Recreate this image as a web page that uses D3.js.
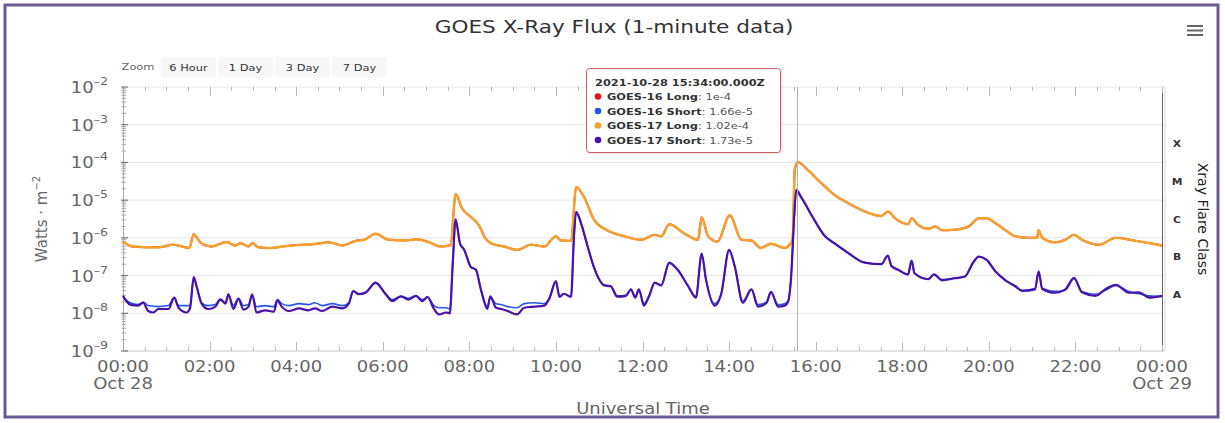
<!DOCTYPE html>
<html>
<head lang="en">
    <meta charset="UTF-8">
    <script src="https://cdn.jsdelivr.net/npm/d3@7/dist/d3.min.js" charset="utf-8"></script>
    <title>GOES X-Ray Flux</title>
    <style>
        body { margin: 0; background: #fff; }
        svg text { font-family: "DejaVu Sans", Verdana, sans-serif; }
    </style>
</head>
<body>
<svg id="chart" width="1225" height="423"></svg>

<script>
    // readings taken off the plot, [UTC time on Oct 28, W/m^2]
    var goes17Long = [
        ["00:00", 8e-7], ["00:13", 5.9e-7], ["00:49", 5.6e-7], ["01:10", 6.6e-7], ["01:32", 5.4e-7],
        ["01:38", 1.25e-6], ["01:47", 7.6e-7], ["02:03", 5.9e-7], ["02:24", 7.8e-7], ["02:35", 6.2e-7],
        ["02:43", 7.2e-7], ["02:54", 5.9e-7], ["02:59", 7.2e-7], ["03:08", 5.6e-7], ["03:22", 5.4e-7],
        ["03:50", 6.2e-7], ["04:26", 6.9e-7], ["04:45", 7.6e-7], ["05:04", 6.3e-7], ["05:22", 8.3e-7],
        ["05:35", 9e-7], ["05:50", 1.28e-6], ["06:08", 8.9e-7], ["06:32", 8.5e-7], ["06:46", 9.2e-7],
        ["07:04", 7.7e-7], ["07:20", 5.9e-7], ["07:34", 6.4e-7], ["07:41", 1.45e-5], ["07:50", 6e-6],
        ["08:02", 3.6e-6], ["08:13", 2.2e-6], ["08:23", 9.2e-7], ["08:32", 6.9e-7], ["08:48", 5.9e-7],
        ["09:07", 4.8e-7], ["09:25", 6.6e-7], ["09:44", 5.9e-7], ["10:00", 1.1e-6], ["10:07", 8.5e-7],
        ["10:21", 8.3e-7], ["10:28", 2.24e-5], ["10:40", 1.1e-5], ["10:53", 3e-6], ["11:12", 1.56e-6],
        ["11:35", 1.1e-6], ["11:58", 8.9e-7], ["12:17", 1.2e-6], ["12:26", 1.1e-6], ["12:37", 2.3e-6],
        ["12:58", 1.3e-6], ["13:17", 8.9e-7], ["13:22", 3.5e-6], ["13:31", 1.1e-6], ["13:44", 8e-7],
        ["14:01", 4e-6], ["14:17", 8.9e-7], ["14:31", 8.5e-7], ["14:44", 5.4e-7], ["14:58", 7e-7],
        ["15:17", 5.4e-7], ["15:24", 6.6e-7], ["15:28", 8.9e-7], ["15:31", 6.3e-5], ["15:35", 1.02e-4],
        ["15:49", 6.3e-5], ["16:08", 2.8e-5], ["16:26", 1.38e-5], ["16:45", 8.3e-6], ["17:08", 5e-6],
        ["17:31", 3.8e-6], ["17:40", 5e-6], ["17:50", 3.3e-6], ["18:08", 2.3e-6], ["18:13", 3.3e-6],
        ["18:22", 2.2e-6], ["18:36", 1.74e-6], ["18:46", 2e-6], ["18:55", 1.6e-6], ["19:13", 1.65e-6],
        ["19:32", 2e-6], ["19:46", 3.3e-6], ["19:57", 3.3e-6], ["20:09", 2.45e-6], ["20:23", 1.6e-6],
        ["20:37", 1.1e-6], ["20:55", 1e-6], ["21:07", 1e-6], ["21:09", 1.6e-6], ["21:14", 1e-6],
        ["21:32", 7.6e-7], ["21:46", 8.9e-7], ["21:58", 1.2e-6], ["22:09", 8.9e-7], ["22:33", 6.6e-7],
        ["22:56", 1e-6], ["23:19", 8.6e-7], ["23:42", 7.3e-7], ["24:00", 6.2e-7]
    ];

    // GOES-16 long sits right under GOES-17 long in the picture
    var goes16Long = goes17Long;

    var goes17Short = [
        ["00:00", 2.9e-8], ["00:10", 1.7e-8], ["00:21", 1.6e-8], ["00:28", 1.9e-8], ["00:35", 1.15e-8],
        ["00:42", 1.05e-8], ["00:49", 1.3e-8], ["01:03", 1.3e-8], ["01:11", 2.6e-8], ["01:17", 1.4e-8],
        ["01:28", 1.05e-8], ["01:33", 1.4e-8], ["01:38", 9.1e-8], ["01:42", 5.2e-8], ["01:49", 1.8e-8],
        ["01:58", 1.3e-8], ["02:08", 1.5e-8], ["02:15", 2.3e-8], ["02:22", 1.8e-8], ["02:26", 3.2e-8],
        ["02:33", 1.3e-8], ["02:40", 2.4e-8], ["02:47", 1.25e-8], ["02:54", 1.5e-8], ["02:59", 3.2e-8],
        ["03:05", 1.05e-8], ["03:17", 1.2e-8], ["03:29", 1.1e-8], ["03:34", 2.2e-8], ["03:40", 1.5e-8],
        ["03:50", 1.15e-8], ["04:04", 1.35e-8], ["04:17", 1.2e-8], ["04:26", 1.35e-8], ["04:36", 1.15e-8],
        ["04:50", 1.5e-8], ["05:04", 1.35e-8], ["05:13", 1.8e-8], ["05:19", 3.9e-8], ["05:27", 3.2e-8],
        ["05:36", 3.5e-8], ["05:50", 6.5e-8], ["06:04", 3.2e-8], ["06:13", 2.1e-8], ["06:25", 2.8e-8],
        ["06:36", 2.3e-8], ["06:46", 2.9e-8], ["06:55", 2.1e-8], ["07:02", 2.7e-8], ["07:11", 1.3e-8],
        ["07:18", 9.3e-9], ["07:28", 1.05e-8], ["07:33", 1e-8], ["07:37", 2.1e-7], ["07:41", 3.1e-6],
        ["07:47", 7.2e-7], ["07:53", 4.8e-7], ["08:02", 1.7e-7], ["08:09", 1.44e-7], ["08:16", 4.3e-8],
        ["08:25", 1.3e-8], ["08:29", 2.8e-8], ["08:37", 1.4e-8], ["08:44", 1.3e-8], ["08:53", 1.15e-8],
        ["09:06", 9.3e-9], ["09:16", 1.4e-8], ["09:30", 1.5e-8], ["09:44", 1.6e-8], ["09:51", 2.5e-8],
        ["10:00", 7.1e-8], ["10:05", 2.7e-8], ["10:11", 3.3e-8], ["10:21", 2.7e-8], ["10:25", 1.1e-6],
        ["10:28", 4.9e-6], ["10:35", 2.4e-6], ["10:44", 5.9e-7], ["10:53", 1.6e-7], ["11:07", 5.5e-8],
        ["11:16", 5.2e-8], ["11:25", 2.75e-8], ["11:37", 2.9e-8], ["11:44", 4.3e-8], ["11:50", 2.6e-8],
        ["11:55", 4.3e-8], ["12:02", 1.6e-8], ["12:09", 2.8e-8], ["12:17", 6.5e-8], ["12:26", 5.5e-8],
        ["12:37", 2.2e-7], ["12:49", 1.4e-7], ["13:03", 5.3e-8], ["13:14", 2.6e-8], ["13:22", 3.8e-7],
        ["13:28", 7.8e-8], ["13:40", 1.6e-8], ["13:49", 3.2e-8], ["14:00", 4.8e-7], ["14:08", 1.7e-7],
        ["14:19", 1.9e-8], ["14:31", 4.3e-8], ["14:40", 1.5e-8], ["14:52", 1.9e-8], ["14:58", 3.7e-8],
        ["15:08", 1.5e-8], ["15:17", 1.6e-8], ["15:22", 2.1e-8], ["15:26", 9.5e-8], ["15:30", 3e-6],
        ["15:33", 1.87e-5], ["15:40", 1.2e-5], ["15:54", 4.1e-6], ["16:13", 1.1e-6], ["16:26", 7.2e-7],
        ["16:45", 4e-7], ["17:08", 2.2e-7], ["17:31", 2e-7], ["17:40", 3.4e-7], ["17:45", 1.8e-7],
        ["17:55", 1.4e-7], ["18:08", 1.07e-7], ["18:13", 2.5e-7], ["18:17", 1.15e-7], ["18:36", 8e-8],
        ["18:44", 1.07e-7], ["18:55", 7.5e-8], ["19:13", 8.5e-8], ["19:27", 9.5e-8], ["19:38", 2.2e-7],
        ["19:46", 3.2e-7], ["19:57", 2.6e-7], ["20:09", 1.3e-7], ["20:23", 7.5e-8], ["20:37", 5.2e-8],
        ["20:46", 3.9e-8], ["21:04", 4.3e-8], ["21:09", 1.3e-7], ["21:14", 4.4e-8], ["21:32", 3.5e-8],
        ["21:46", 4.3e-8], ["21:58", 8.7e-8], ["22:09", 3.6e-8], ["22:28", 2.9e-8], ["22:41", 4.3e-8],
        ["22:56", 5.7e-8], ["23:14", 3.5e-8], ["23:28", 3.6e-8], ["23:42", 2.6e-8], ["24:00", 2.9e-8]
    ];

    var goes16Short = [
        ["00:00", 2.7e-8], ["00:10", 1.9e-8], ["00:21", 1.7e-8], ["00:28", 2e-8], ["00:35", 1.6e-8],
        ["00:49", 1.5e-8], ["01:03", 1.6e-8], ["01:11", 2.6e-8], ["01:17", 1.6e-8], ["01:28", 1.6e-8],
        ["01:33", 1.6e-8], ["01:38", 8.8e-8], ["01:42", 5e-8], ["01:49", 1.9e-8], ["01:58", 1.6e-8],
        ["02:08", 1.7e-8], ["02:15", 2.4e-8], ["02:22", 1.9e-8], ["02:26", 3.2e-8], ["02:33", 1.6e-8],
        ["02:40", 2.5e-8], ["02:47", 1.6e-8], ["02:54", 1.7e-8], ["02:59", 3e-8], ["03:05", 1.5e-8],
        ["03:17", 1.6e-8], ["03:29", 1.5e-8], ["03:34", 2.3e-8], ["03:40", 1.8e-8], ["03:50", 1.6e-8],
        ["04:04", 1.8e-8], ["04:17", 1.7e-8], ["04:26", 1.9e-8], ["04:36", 1.6e-8], ["04:50", 1.8e-8],
        ["05:04", 1.6e-8], ["05:13", 1.9e-8], ["05:19", 3.8e-8], ["05:27", 3.3e-8], ["05:36", 3.6e-8],
        ["05:50", 6.3e-8], ["06:04", 3.3e-8], ["06:13", 2.3e-8], ["06:25", 2.8e-8], ["06:36", 2.5e-8],
        ["06:46", 2.9e-8], ["06:55", 2.3e-8], ["07:02", 2.7e-8], ["07:11", 1.6e-8], ["07:18", 1.4e-8],
        ["07:28", 1.4e-8], ["07:33", 1.3e-8], ["07:37", 2e-7], ["07:41", 3e-6], ["07:47", 7e-7],
        ["07:53", 4.7e-7], ["08:02", 1.7e-7], ["08:09", 1.4e-7], ["08:16", 4.3e-8], ["08:25", 1.5e-8],
        ["08:29", 2.6e-8], ["08:37", 1.8e-8], ["08:44", 1.7e-8], ["08:53", 1.5e-8], ["09:06", 1.4e-8],
        ["09:16", 1.8e-8], ["09:30", 1.9e-8], ["09:44", 1.8e-8], ["09:51", 2.5e-8], ["10:00", 6.8e-8],
        ["10:05", 2.8e-8], ["10:11", 3.3e-8], ["10:21", 2.8e-8], ["10:25", 1e-6], ["10:28", 4.7e-6],
        ["10:35", 2.3e-6], ["10:44", 5.8e-7], ["10:53", 1.6e-7], ["11:07", 5.6e-8], ["11:16", 5.3e-8],
        ["11:25", 2.9e-8], ["11:37", 3e-8], ["11:44", 4.2e-8], ["11:50", 2.8e-8], ["11:55", 4.2e-8],
        ["12:02", 1.8e-8], ["12:09", 2.9e-8], ["12:17", 6.4e-8], ["12:26", 5.5e-8], ["12:37", 2.1e-7],
        ["12:49", 1.4e-7], ["13:03", 5.4e-8], ["13:14", 2.8e-8], ["13:22", 3.6e-7], ["13:28", 7.8e-8],
        ["13:40", 1.8e-8], ["13:49", 3.2e-8], ["14:00", 4.6e-7], ["14:08", 1.7e-7], ["14:19", 2.1e-8],
        ["14:31", 4.3e-8], ["14:40", 1.7e-8], ["14:52", 2e-8], ["14:58", 3.6e-8], ["15:08", 1.7e-8],
        ["15:17", 1.8e-8], ["15:22", 2.2e-8], ["15:26", 9e-8], ["15:30", 2.9e-6], ["15:33", 1.78e-5],
        ["15:40", 1.15e-5], ["15:54", 4e-6], ["16:13", 1.1e-6], ["16:26", 7e-7], ["16:45", 3.9e-7],
        ["17:08", 2.2e-7], ["17:31", 2e-7], ["17:40", 3.3e-7], ["17:45", 1.8e-7], ["17:55", 1.4e-7],
        ["18:08", 1.05e-7], ["18:13", 2.4e-7], ["18:17", 1.15e-7], ["18:36", 8.2e-8], ["18:44", 1.05e-7],
        ["18:55", 7.8e-8], ["19:13", 8.6e-8], ["19:27", 9.5e-8], ["19:38", 2.1e-7], ["19:46", 3.1e-7],
        ["19:57", 2.6e-7], ["20:09", 1.3e-7], ["20:23", 7.6e-8], ["20:37", 5e-8], ["20:46", 4.1e-8],
        ["21:04", 4.5e-8], ["21:09", 1.2e-7], ["21:14", 4.6e-8], ["21:32", 3.8e-8], ["21:46", 4.1e-8],
        ["21:58", 8.3e-8], ["22:09", 3.8e-8], ["22:28", 3.2e-8], ["22:41", 4e-8], ["22:56", 5.5e-8],
        ["23:14", 3.8e-8], ["23:28", 3.3e-8], ["23:42", 2.9e-8], ["24:00", 2.8e-8]
    ];

    var seriesNames = ["GOES-16 Long", "GOES-16 Short", "GOES-17 Long", "GOES-17 Short"];
    var seriesColors = ["#e8141c", "#2457e6", "#f7a02c", "#4a12a8"];
    var tooltipValues = ["1e-4", "1.66e-5", "1.02e-4", "1.73e-5"];
    var tooltipTime = "15:34";
    var tooltipHeader = "2021-10-28 15:34:00.000Z";

    var yDecades = [-9, -8, -7, -6, -5, -4, -3, -2];
    var flareClasses = [["A", -7.5], ["B", -6.5], ["C", -5.5], ["M", -4.5], ["X", -3.5]];
    var xTickLabels = [
        ["00:00", "Oct 28"], ["02:00"], ["04:00"], ["06:00"], ["08:00"], ["10:00"], ["12:00"],
        ["14:00"], ["16:00"], ["18:00"], ["20:00"], ["22:00"], ["24:00", "Oct 29"]
    ];
    var zoomButtons = ["6 Hour", "1 Day", "3 Day", "7 Day"];

    var SX = 1.2; // text in the screenshot is stretched sideways

    function toDate(t) {
        var p = t.split(":").map(Number);
        return new Date(Date.UTC(2021, 9, 28, p[0], p[1]));
    }

    var svg = d3.select("#chart");

    var x = d3.scaleUtc()
            .domain([toDate("00:00"), toDate("24:00")])
            .range([123, 1162]);
    var y = d3.scaleLog()
            .domain([1e-9, 1e-2])
            .range([351, 87]);
    var plotRight = 1165;

    function txt(parent, px, py, str, size, opts) {
        opts = opts || {};
        return parent.append("text")
                .attr("transform", "translate(" + px + "," + py + ") scale(" + SX + ",1)")
                .attr("text-anchor", opts.anchor || "middle")
                .attr("font-size", size)
                .attr("font-weight", opts.weight || "normal")
                .attr("fill", opts.fill || "#666")
                .text(str);
    }

    //frame
    svg.append("rect")
            .attr("x", 5).attr("y", 5)
            .attr("width", 1213).attr("height", 412)
            .attr("fill", "none")
            .attr("stroke", "#6b5a92")
            .attr("stroke-width", 3);

    //title + menu
    txt(svg, 614, 33, "GOES X-Ray Flux (1-minute data)", 18, {fill: "#333"});
    [26, 30.5, 35].forEach(function(yy) {
        svg.append("line")
                .attr("x1", 1187).attr("x2", 1203)
                .attr("y1", yy).attr("y2", yy)
                .attr("stroke", "#666").attr("stroke-width", 2);
    });

    //zoom buttons
    txt(svg, 138, 70, "Zoom", 9.5, {fill: "#666"});
    zoomButtons.forEach(function(b, i) {
        var bx = 161 + i * 57;
        svg.append("rect")
                .attr("x", bx).attr("y", 57)
                .attr("width", 55).attr("height", 20)
                .attr("fill", "#f7f7f7");
        txt(svg, bx + 27.5, 70.5, b, 9.5, {fill: "#333"});
    });

    //grid
    var grid = svg.append("g");
    yDecades.forEach(function(d) {
        grid.append("line")
                .attr("x1", x.range()[0]).attr("x2", plotRight)
                .attr("y1", y(Math.pow(10, d))).attr("y2", y(Math.pow(10, d)))
                .attr("stroke", d === -9 ? "#c8c8c8" : "#e6e6e6");
    });
    grid.append("line")
            .attr("x1", plotRight).attr("x2", plotRight)
            .attr("y1", y.range()[1]).attr("y2", y.range()[0])
            .attr("stroke", "#dcdcdc");

    //x ticks, bottom and top, every 30 min (long ones every 2 h)
    var halfHours = d3.utcMinute.every(30).range(toDate("00:00"), d3.utcMinute.offset(toDate("24:00"), 1));
    var xt = svg.append("g").attr("stroke", "#b8b8b8");
    halfHours.forEach(function(t) {
        var big = t.getUTCMinutes() === 0 && t.getUTCHours() % 2 === 0;
        var len = big ? 9 : 4;
        var xx = Math.round(x(t)) + 0.5;
        xt.append("line").attr("x1", xx).attr("x2", xx)
                .attr("y1", y.range()[0]).attr("y2", y.range()[0] - len);
        xt.append("line").attr("x1", xx).attr("x2", xx)
                .attr("y1", y.range()[1]).attr("y2", y.range()[1] + len);
    });

    xTickLabels.forEach(function(l) {
        var xx = x(toDate(l[0]));
        txt(svg, xx, 372, l[0] === "24:00" ? "00:00" : l[0], 15);
        if (l[1]) txt(svg, xx, 389, l[1], 15);
    });
    txt(svg, 643, 414, "Universal Time", 15);

    //y axis with log minor ticks
    var ya = svg.append("g").attr("stroke", "#aaa");
    ya.append("line")
            .attr("x1", 123.5).attr("x2", 123.5)
            .attr("y1", y.range()[1]).attr("y2", y.range()[0]);
    yDecades.forEach(function(d) {
        var yy = y(Math.pow(10, d));
        ya.append("line").attr("x1", 121).attr("x2", 128)
                .attr("y1", yy).attr("y2", yy).attr("stroke", "#666");
        if (d < -2) {
            d3.range(2, 10).forEach(function(m) {
                var ym = y(m * Math.pow(10, d));
                ya.append("line").attr("x1", 121.5).attr("x2", 126)
                        .attr("y1", ym).attr("y2", ym);
            });
        }
        var lab = svg.append("text")
                .attr("transform", "translate(108," + (yy + 6) + ") scale(" + SX + ",1)")
                .attr("text-anchor", "end")
                .attr("fill", "#666");
        lab.append("tspan").attr("font-size", 15).text("10");
        lab.append("tspan").attr("font-size", 10.5).attr("dy", -8).text("\u2013" + (-d));
    });

    var yTitle = svg.append("text")
            .attr("transform", "translate(47,219) rotate(-90)")
            .attr("text-anchor", "middle")
            .attr("fill", "#666");
    yTitle.append("tspan").attr("font-size", 15).text("Watts \u00b7 m");
    yTitle.append("tspan").attr("font-size", 10).attr("dy", -7).text("\u22122");

    //flare class axis on the right
    flareClasses.forEach(function(c) {
        txt(svg, 1177, y(Math.pow(10, c[1])) + 3.5, c[0], 9, {fill: "#333", weight: "bold"});
    });
    svg.append("text")
            .attr("transform", "translate(1198,219) rotate(90)")
            .attr("text-anchor", "middle")
            .attr("font-size", 14)
            .attr("fill", "#222")
            .text("Xray Flare Class");

    //end-of-day marker
    svg.append("line")
            .attr("x1", x(toDate("24:00")) + 0.5).attr("x2", x(toDate("24:00")) + 0.5)
            .attr("y1", 93).attr("y2", 345)
            .attr("stroke", "#666");

    //series
    var line = d3.line()
            .x(function(d) { return x(toDate(d[0])); })
            .y(function(d) { return y(d[1]); })
            .curve(d3.curveMonotoneX);

    var seriesData = [goes16Long, goes16Short, goes17Long, goes17Short];
    var seriesWidths = [2, 1.6, 2.4, 2.2];
    seriesData.forEach(function(s, i) {
        svg.append("path")
                .datum(s)
                .attr("d", line)
                .attr("fill", "none")
                .attr("stroke", seriesColors[i])
                .attr("stroke-width", seriesWidths[i])
                .attr("stroke-linejoin", "round");
    });

    //crosshair + tooltip
    var cx = Math.round(x(toDate(tooltipTime))) + 0.5;
    svg.append("line")
            .attr("x1", cx).attr("x2", cx)
            .attr("y1", y.range()[1]).attr("y2", y.range()[0])
            .attr("stroke", "#b0b0b0");

    var tip = svg.append("g").attr("transform", "translate(586,68)");
    tip.append("rect")
            .attr("x", 1.5).attr("y", 1.5)
            .attr("width", 195).attr("height", 85).attr("rx", 3)
            .attr("fill", "rgba(0,0,0,0.08)");
    tip.append("rect")
            .attr("x", 0.5).attr("y", 0.5)
            .attr("width", 194).attr("height", 84).attr("rx", 3)
            .attr("fill", "#fff")
            .attr("stroke", "#cf5f5f");
    txt(tip, 9, 18, tooltipHeader, 9.5, {anchor: "start", fill: "#333", weight: "bold"});
    seriesNames.forEach(function(n, i) {
        var ty = 32 + i * 14.5;
        tip.append("circle").attr("cx", 12).attr("cy", ty - 3.5).attr("r", 3.3)
                .attr("fill", seriesColors[i]);
        var t = tip.append("text")
                .attr("transform", "translate(21," + ty + ") scale(" + SX + ",1)")
                .attr("font-size", 9.5)
                .attr("fill", "#333");
        t.append("tspan").attr("font-weight", "bold").text(n);
        t.append("tspan").attr("fill", "#555").text(": " + tooltipValues[i]);
    });
</script>
</body>
</html>
